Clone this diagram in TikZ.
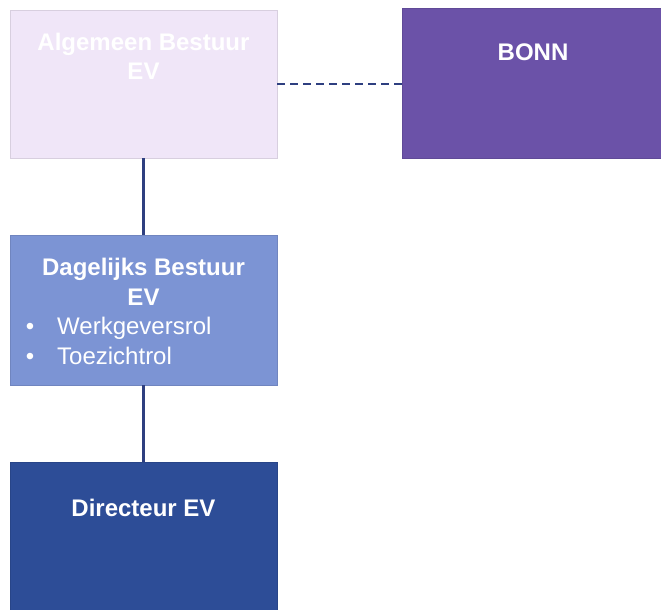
\documentclass[tikz,border=0pt]{standalone}
\usepackage{fontspec}
\setmainfont{Liberation Sans}
\definecolor{algfill}{HTML}{F0E6F8}
\definecolor{bonnfill}{HTML}{6B52A8}
\definecolor{dagfill}{HTML}{7C94D4}
\definecolor{dirfill}{HTML}{2D4D97}
\definecolor{lijn}{HTML}{2E3F80}
\begin{document}
\begin{tikzpicture}[x=1pt,y=-1pt,
	box/.style={draw=#1!90!black,line width=0.6pt,fill=#1,minimum width=267pt,minimum height=148pt,inner sep=0pt},
	txt/.style={text=white,font=\fontsize{24}{29}\selectfont,inner sep=0pt,anchor=base},
	kop/.style={txt,font=\fontsize{24}{29}\selectfont\bfseries},
	conn/.style={draw=lijn,line width=2.6pt}]
			\useasboundingbox[fill=white](0,0) rectangle (661,610);
			% boxes
			\node[box=algfill] (alg) at(143.5,84){};
			\node[box=bonnfill,minimum width=262pt,minimum height=150pt] (bonn) at(533,83){};
			\node[box=dagfill,minimum height=150pt] (dag) at(143.5,310){};
			\node[box=dirfill,minimum height=160pt] (dir) at(143.5,542){};
			% connectors
			\draw[conn] (alg) -- (dag);
			\draw[conn] (dag) -- (dir);
			\draw[conn,dash pattern=on 8pt off 5pt] (alg.east) -- (alg.east -| bonn.west);
			% texts
			\node[kop] (algA) at(143.5,51){Algemeen Bestuur};
			\node[kop] (algB) at(143.5,79){EV};
			\node[kop] (bonnA) at(533,60){BONN};
			\node[kop] (dagA) at(143.5,275){Dagelijks Bestuur};
			\node[kop] (dagB) at(143.5,305){EV};
			\node[txt] (dagC) at(30,334){•};
			\node[txt,anchor=base west] (dagD) at(57,334){Werkgeversrol};
			\node[txt] (dagE) at(30,364){•};
			\node[txt,anchor=base west] (dagF) at(57,364){Toezichtrol};
			\node[kop] (dirA) at(143.5,516){Directeur EV};
			\end{tikzpicture}
\end{document}
